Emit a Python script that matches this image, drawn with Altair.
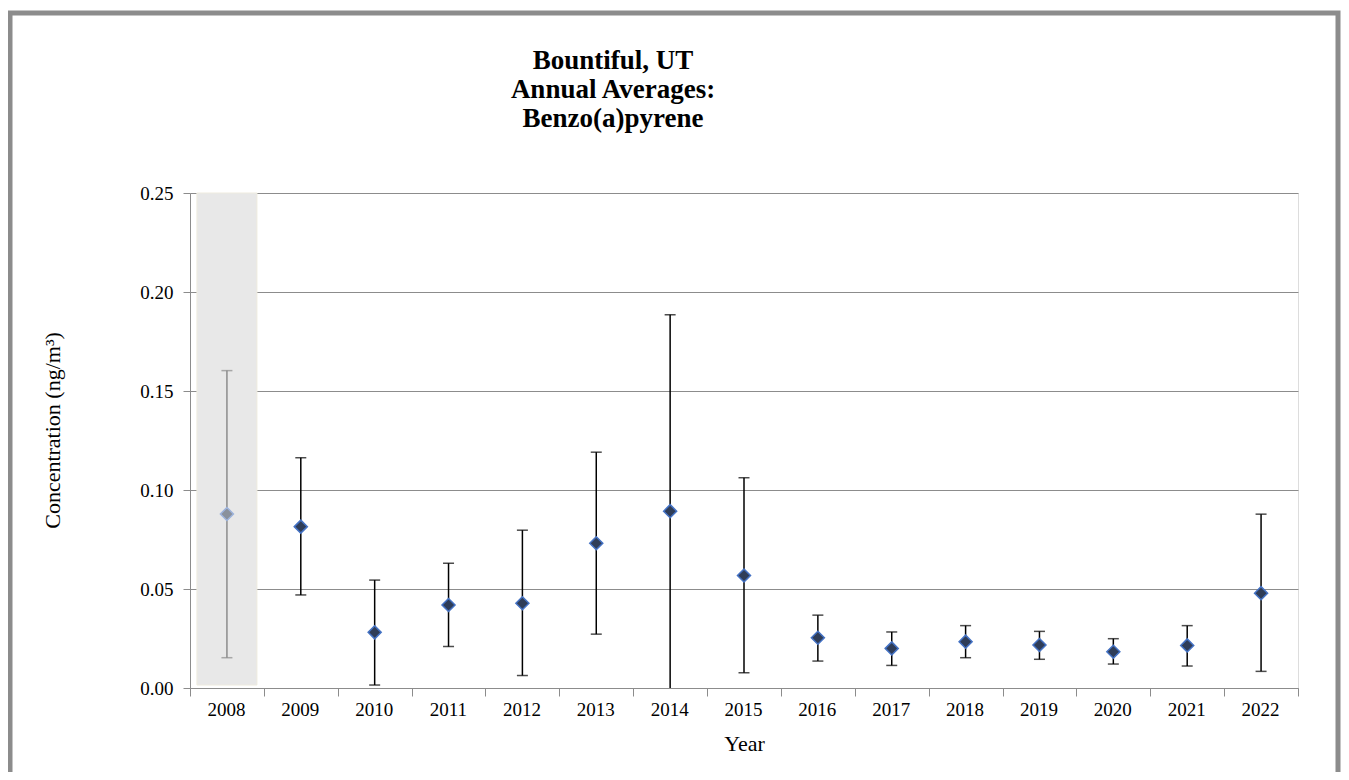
import altair as alt
import pandas as pd

years = ["2008", "2009", "2010", "2011", "2012", "2013", "2014", "2015",
         "2016", "2017", "2018", "2019", "2020", "2021", "2022"]
means = [0.0879, 0.0815, 0.0281, 0.0419, 0.0428, 0.0731, 0.0893, 0.0568,
         0.0254, 0.0200, 0.0234, 0.0217, 0.0183, 0.0215, 0.0479]
lows = [0.0153, 0.0470, 0.0015, 0.0209, 0.0063, 0.0272, -0.0100, 0.0077,
        0.0136, 0.0114, 0.0153, 0.0145, 0.0121, 0.0111, 0.0084]
highs = [0.1603, 0.1163, 0.0545, 0.0630, 0.0797, 0.1191, 0.1885, 0.1062,
         0.0368, 0.0283, 0.0315, 0.0286, 0.0249, 0.0315, 0.0878]
shaded_years = ["2008"]
shade_top = [0.25]
shade_bottom = [0.0015]
title_lines = ["Bountiful, UT", "Annual Averages:", "Benzo(a)pyrene"]

df = pd.DataFrame({"year": years, "mean": means, "lo": lows, "hi": highs})
df["grp"] = ["shaded" if y in shaded_years else "normal" for y in years]
shade_df = pd.DataFrame({"year": shaded_years, "top": shade_top, "bottom": shade_bottom})
title_df = pd.DataFrame({"t": ["\n".join(title_lines)]})

FONT = "Liberation Serif"
GRID = "#8C8C8C"

x_enc = alt.X("year:N", sort=years,
              scale=alt.Scale(paddingInner=0, paddingOuter=0),
              axis=alt.Axis(title="Year", labelAngle=0, tickBand="extent",
                            labelFont=FONT, labelFontSize=19, labelColor="#000000",
                            labelOffset=18,
                            titleFont=FONT, titleFontSize=22, titleFontWeight="normal",
                            titleColor="#000000", titlePadding=14,
                            domainColor=GRID, tickColor=GRID, tickSize=8,
                            labelPadding=13, grid=False))
y_scale = alt.Scale(domain=[0, 0.25], nice=False, zero=True)
y_axis = alt.Axis(title="Concentration (ng/m³)", values=[0, 0.05, 0.1, 0.15, 0.2, 0.25],
                  format=".2f", labelFont=FONT, labelFontSize=19, labelColor="#000000",
                  titleFont=FONT, titleFontSize=22, titleFontWeight="normal",
                  titleColor="#000000", titleX=-138, titleY=237, titleAngle=-90,
                  titleAlign="center", titleBaseline="middle",
                  domainColor=GRID, tickColor=GRID, tickSize=7, labelPadding=10,
                  grid=True, gridColor=GRID, gridWidth=1)

base = alt.Chart(df)

frame = alt.Chart(shade_df).mark_rect(
    fill=None, stroke="#8C8C8C", strokeWidth=5, clip=False
).encode(x=alt.value(-180), x2=alt.value(1148), y=alt.value(-180), y2=alt.value(600))

title = alt.Chart(title_df).mark_text(
    font=FONT, fontSize=27, fontWeight="bold", color="#000000",
    lineBreak="\n", lineHeight=29, align="center", baseline="middle"
).encode(text="t:N", x=alt.value(423), y=alt.value(-132))

shade = alt.Chart(shade_df).mark_bar(
    width=60, color="#E8E8E8", stroke="#EEEBDF", strokeWidth=1
).encode(x=alt.X("year:N", sort=years), y=alt.Y("top:Q", scale=y_scale, axis=y_axis),
         y2="bottom:Q")

err = base.mark_rule(strokeWidth=1.5, clip=True).encode(
    x=x_enc,
    y=alt.Y("lo:Q", scale=y_scale, axis=y_axis),
    y2="hi:Q",
    color=alt.Color("grp:N", scale=alt.Scale(domain=["normal", "shaded"],
                                             range=["#000000", "#8C8C8C"]), legend=None),
)
cap_lo = base.mark_tick(size=11, thickness=1.5, clip=True).encode(
    x=alt.X("year:N", sort=years), y=alt.Y("lo:Q", scale=y_scale),
    color=alt.Color("grp:N", legend=None))
cap_hi = base.mark_tick(size=11, thickness=1.5, clip=True).encode(
    x=alt.X("year:N", sort=years), y=alt.Y("hi:Q", scale=y_scale),
    color=alt.Color("grp:N", legend=None))

pts = base.mark_point(shape="diamond", filled=True, size=170, strokeWidth=1.5, opacity=1).encode(
    x=alt.X("year:N", sort=years), y=alt.Y("mean:Q", scale=y_scale),
    fill=alt.Fill("grp:N", scale=alt.Scale(domain=["normal", "shaded"],
                                           range=["#2F3D58", "#8A919C"]), legend=None),
    stroke=alt.Stroke("grp:N", scale=alt.Scale(domain=["normal", "shaded"],
                                               range=["#4472C4", "#9DB3DC"]), legend=None),
)

chart = alt.layer(frame, title, shade, err, cap_lo, cap_hi, pts).properties(
    width=1108, height=495,
    autosize=alt.AutoSizeParams(type="none"),
    padding={"left": 182, "top": 185, "right": 43, "bottom": 84},
).resolve_scale(color="shared").configure_view(stroke=None).configure(background="#FFFFFF")

chart.save("out.html", embed_options={"renderer": "svg", "actions": False})
